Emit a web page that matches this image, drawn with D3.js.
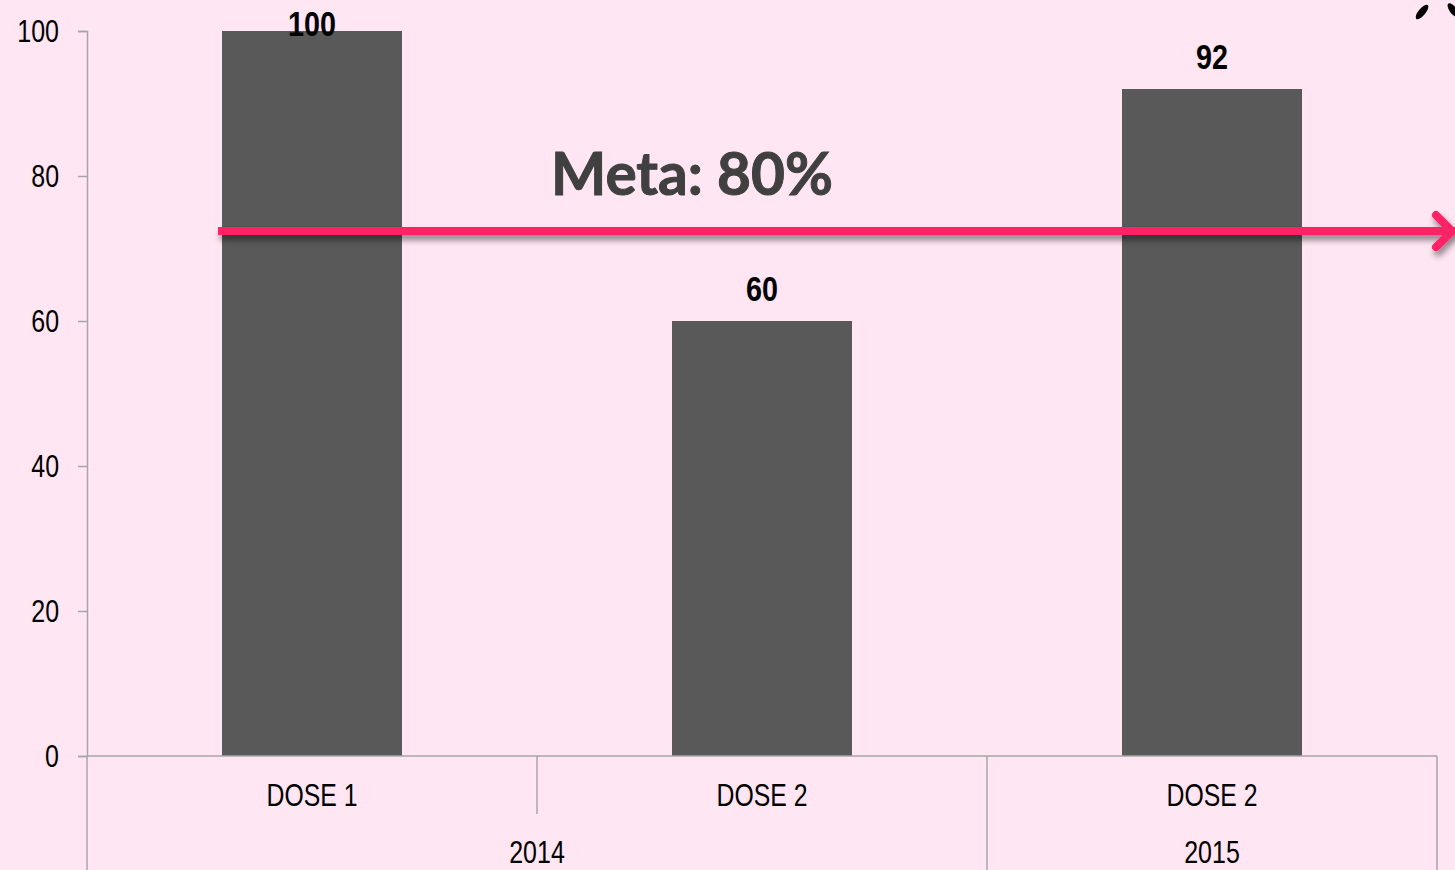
<!DOCTYPE html>
<html>
<head>
<meta charset="utf-8">
<script src="https://cdn.jsdelivr.net/npm/d3@7"></script>
<style>
  html, body { margin: 0; padding: 0; background: #ffe6f2; overflow: hidden; }
  text { font-family: "Liberation Sans Narrow", "Arial Narrow", "Liberation Sans", sans-serif; }
</style>
</head>
<body>
<div id="chart"></div>
<script>
// chart values
const categories = ["DOSE 1", "DOSE 2", "DOSE 2 "];
const years = ["2014", "2014", "2015"];
const values = [100, 60, 92];
const yTicks = [0, 20, 40, 60, 80, 100];
const metaLabel = "Meta: 80%";
const metaValue = 72.4;   // where the arrow is drawn in the picture

const width = 1455,
    height = 870,
    margin = {left: 87, right: 18, top: 31, bottom: 114};

// squeeze text horizontally to look like a narrow font
function narrow(sel, k) {
  sel.each(function () {
    const w = this.getComputedTextLength();
    d3.select(this).attr("textLength", w * k).attr("lengthAdjust", "spacingAndGlyphs");
  });
}

const svg = d3.select("#chart")
  .append("svg")
  .attr("width", width)
  .attr("height", height);

svg.append("rect").attr("width", width).attr("height", height).attr("fill", "#ffe6f2");

const defs = svg.append("defs");
const shadow = defs.append("filter").attr("id", "shadow")
  .attr("x", "-5%").attr("y", "-200%").attr("width", "110%").attr("height", "500%");
shadow.append("feDropShadow")
  .attr("dx", 2).attr("dy", 5).attr("stdDeviation", 3)
  .attr("flood-color", "#000").attr("flood-opacity", 0.45);

const x = d3.scaleBand()
  .domain(categories)
  .range([margin.left, width - margin.right])
  .paddingInner(0.6)
  .paddingOuter(0.3);

const y = d3.scaleLinear()
  .domain([0, 100])
  .range([height - margin.bottom, margin.top]);

// y axis
const yAxis = svg.append("g")
  .attr("transform", `translate(${margin.left},0)`)
  .call(d3.axisLeft(y).tickValues(yTicks).tickSize(9).tickPadding(19));
yAxis.select(".domain").attr("stroke", "#a6a6a6").attr("stroke-width", 1.5);
yAxis.selectAll(".tick line").attr("stroke", "#a6a6a6").attr("stroke-width", 1.5);
yAxis.selectAll(".tick text")
  .attr("fill", "#000")
  .style("font-size", "32px")
  .style("font-family", "'Liberation Sans Narrow', 'Arial Narrow', 'Liberation Sans', sans-serif")
  .call(narrow, 0.78);

// bars
svg.append("g")
  .selectAll("rect")
  .data(values)
  .join("rect")
    .attr("x", (d, i) => x(categories[i]))
    .attr("y", d => y(d))
    .attr("width", x.bandwidth())
    .attr("height", d => y(0) - y(d))
    .attr("fill", "#595959");

// bar labels
svg.append("g")
  .selectAll("text")
  .data(values)
  .join("text")
    .attr("x", (d, i) => x(categories[i]) + x.bandwidth() / 2)
    .attr("y", d => Math.max(y(d) - 20, 36))
    .attr("text-anchor", "middle")
    .style("font-size", "35px")
    .style("font-weight", "bold")
    .attr("fill", "#000")
    .text(d => d)
    .call(narrow, 0.82);

// category axis (two levels)
const step = x.step();
const x0 = margin.left;
const axisY = y(0);
const cat = svg.append("g").attr("stroke", "#a6a6a6").attr("stroke-width", 1.5);
cat.append("line").attr("x1", x0).attr("x2", x0 + step * categories.length)
  .attr("y1", axisY).attr("y2", axisY);
categories.forEach((c, i) => {
  if (i === 0) return;
  const sameGroup = years[i] === years[i - 1];
  cat.append("line")
    .attr("x1", x0 + step * i).attr("x2", x0 + step * i)
    .attr("y1", axisY).attr("y2", sameGroup ? axisY + 58 : height);
});
cat.append("line").attr("x1", x0 + step * categories.length).attr("x2", x0 + step * categories.length)
  .attr("y1", axisY).attr("y2", height);
cat.append("line").attr("x1", x0).attr("x2", x0).attr("y1", axisY).attr("y2", height);

svg.append("g")
  .selectAll("text")
  .data(categories)
  .join("text")
    .attr("x", (d, i) => x0 + step * (i + 0.5))
    .attr("y", axisY + 50)
    .attr("text-anchor", "middle")
    .style("font-size", "31px")
    .attr("fill", "#000")
    .text(d => d.trim())
    .call(narrow, 0.8);

const groups = d3.groups(categories.map((c, i) => ({c, i, year: years[i]})), d => d.year);
svg.append("g")
  .selectAll("text")
  .data(groups)
  .join("text")
    .attr("x", d => x0 + step * (d3.min(d[1], e => e.i) + d3.max(d[1], e => e.i) + 1) / 2)
    .attr("y", axisY + 107)
    .attr("text-anchor", "middle")
    .style("font-size", "32px")
    .attr("fill", "#000")
    .text(d => d[0])
    .call(narrow, 0.78);

// meta arrow
const arrowY = y(metaValue);
const arrow = svg.append("g").attr("filter", "url(#shadow)")
  .attr("stroke", "#ff2266").attr("stroke-width", 8).attr("fill", "none");
arrow.append("line").attr("x1", 218).attr("x2", width + 10).attr("y1", arrowY).attr("y2", arrowY)
  .attr("stroke-linecap", "butt");
arrow.append("path")
  .attr("d", `M${1436},${arrowY - 16} L${1452},${arrowY} L${1436},${arrowY + 16}`)
  .attr("stroke-linecap", "round").attr("stroke-linejoin", "round");

const meta = svg.append("text")
  .attr("x", 551)
  .attr("y", 195)
  .style("font-family", "Lato, 'Open Sans', sans-serif")
  .style("font-weight", "bold")
  .style("font-size", "58px")
  .attr("fill", "#404040")
  .attr("stroke", "#404040")
  .attr("stroke-width", 1)
  .text(metaLabel);
const w = meta.node().getComputedTextLength();
meta.style("font-size", (58 * 282 / w) + "px");

// small dark marks at top right corner
svg.append("ellipse").attr("cx", 1422).attr("cy", 12).attr("rx", 9).attr("ry", 3.5)
  .attr("transform", "rotate(-50,1422,12)").attr("fill", "#000");
svg.append("ellipse").attr("cx", 1453).attr("cy", 10).attr("rx", 8).attr("ry", 3.5)
  .attr("transform", "rotate(55,1453,10)").attr("fill", "#000");
</script>
</body>
</html>
